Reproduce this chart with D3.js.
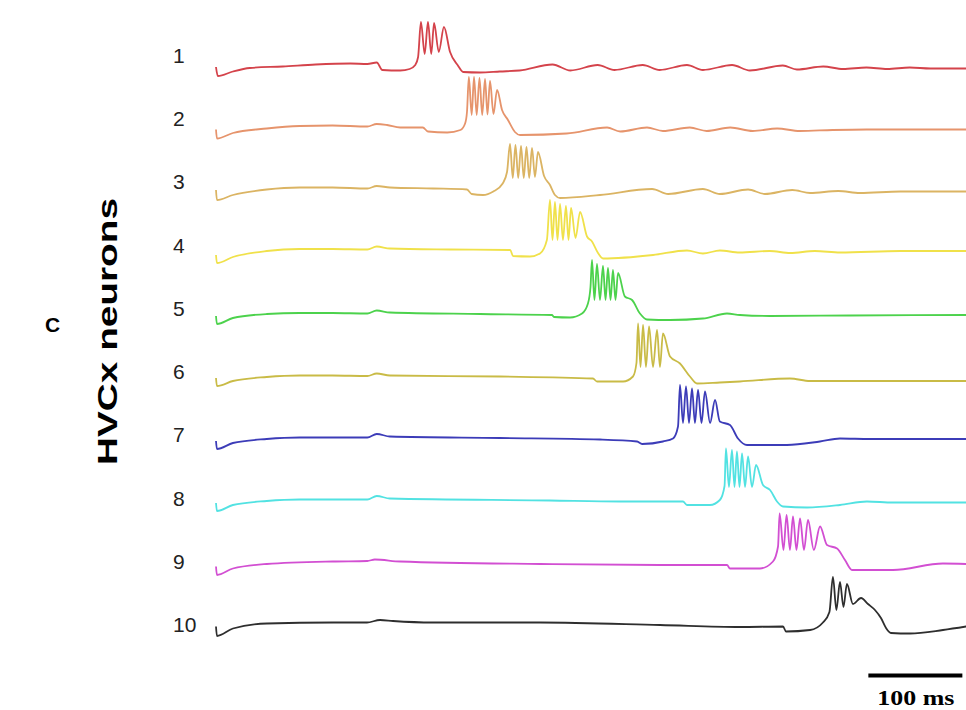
<!DOCTYPE html>
<html lang="en">
<head>
  <meta charset="utf-8">
  <title>HVCx neurons</title>
  <script src="https://d3js.org/d3.v7.min.js"></script>
  <style>
    body { margin: 0; background: #fff; }
  </style>
</head>
<body>
  <div id="my_dataviz"></div>
  <script>
    // traces: [time (ms), membrane potential (mV)]
    var neuron1 = [[0,-76],[2,-94],[18,-85],[36,-78],[71,-75],[106,-71],[143,-69],[161,-70],[171,-67],[177,-82],[196,-83],[206,-80],[212,-72],[215,-56],[218,14],[222,-50],[225.5,14],[229,-50],[232,12],[237,-46],[242.5,4],[249,-46],[257,-72],[263,-86],[281,-87],[302,-85],[323,-83],[358,-71],[377,-83],[406,-72],[424,-82],[454,-72],[472,-82],[501,-72],[518,-82],[549,-72],[568,-83],[603,-73],[618,-81],[646,-75],[667,-80],[692,-77],[714,-80],[738,-77],[760,-79],[798,-79]];
    var neuron2 = [[0,-77],[1,-95],[18,-84],[54,-75],[89,-70],[124,-69],[161,-71],[171,-66],[182,-68],[196,-73],[220,-73],[225.5,-81],[246,-83],[260,-78],[265,-65],[267,-42],[269,28],[272,-48],[274.5,28],[277.3,-48],[280.3,26],[283.2,-48],[286.2,24],[288.8,-47],[291.5,20],[295.2,-46],[299,2],[304.3,-38],[310.6,-58],[318,-82],[323.4,-88],[373,-85],[416,-73],[430,-81],[458.5,-73],[475.5,-80],[504,-73],[522,-80],[547,-73],[571,-80],[597,-75],[621,-80],[656,-78],[692,-77],[798,-77]];
    var neuron3 = [[0,-74],[1,-94],[18,-84],[54,-73],[89,-69],[124,-69],[161,-71],[171,-66],[185,-69],[231,-71],[267,-73],[272,-82],[284,-84],[295,-77],[305,-61],[309.6,-38],[312.8,18],[315.7,-50],[318.6,16],[321.5,-50],[324.5,14],[327.4,-50],[330.3,12],[333.2,-50],[336.2,10],[339.3,-48],[342.5,2],[349,-46],[355.3,-64],[360.6,-84],[366,-90],[408.5,-84],[464,-72],[481,-82],[518,-72],[536,-82],[566,-73],[584,-82],[613,-74],[632,-80],[662,-76],[685,-80],[728,-77],[798,-77]];
    var neuron4 = [[0,-80],[1,-96],[18,-84],[54,-72],[89,-68],[124,-68],[161,-69],[171,-63],[185,-67],[249,-69],[313,-70],[316,-82],[334,-83],[344.7,-77],[352,-50],[355.3,30],[358,-50],[360.6,26],[363.3,-50],[366,22],[369.1,-50],[372.3,18],[375,-50],[377.7,14],[382.5,-46],[387.3,6],[394.7,-43],[400,-53],[406.4,-76],[411.7,-87],[465,-80],[501,-71],[518,-77],[536,-71],[557,-75],[589,-72],[611,-76],[637,-72],[664,-75],[728,-72],[798,-72]];
    var neuron5 = [[0,-78],[1,-94],[18,-82],[54,-74],[89,-72],[124,-72],[161,-73],[171,-67],[185,-71],[281,-74],[357.4,-76],[359.6,-80],[376.6,-81],[389.4,-73],[395.7,-53],[398.4,-20],[400,34],[402.6,-46],[405.3,26],[408.5,-46],[411.7,22],[414.4,-46],[417,18],[419.7,-46],[422.3,14],[425,-46],[427.7,8],[435,-39],[442.6,-46],[451,-73],[458.5,-85],[483,-86],[518,-83],[543.6,-73],[557.4,-76],[589,-78],[674.5,-77],[798,-76]];
    var neuron6 = [[0,-78],[1,-94],[18,-84],[54,-76],[89,-73],[124,-73],[161,-74],[171,-69],[185,-73],[302,-75],[401,-79],[405.3,-85],[433,-85],[443.6,-75],[447.3,-48],[449,31],[451.6,-56],[454.3,28],[457.4,-56],[460.7,25],[464.9,-56],[469.2,18],[472.3,-56],[475.5,11],[483,-35],[493.6,-49],[504.2,-75],[511.7,-89],[536,-87],[557.4,-85],[610.6,-79],[632,-84],[728,-84],[798,-84]];
    var neuron7 = [[0,-80],[1,-96],[18,-84],[54,-76],[89,-73],[124,-73],[161,-73],[171,-66],[185,-71],[302,-74],[408.5,-77],[448,-81],[453.3,-86],[475.5,-81],[486.2,-75],[491.5,-51],[493.6,32],[496.8,-44],[500,29],[503.2,-44],[506.4,25],[509.5,-44],[512.8,22],[516.5,-44],[520.2,19],[525.6,-44],[530.9,2],[536,-41],[546.8,-48],[555.3,-75],[564.9,-88],[607.4,-88],[642.5,-81],[663.8,-75],[695.7,-76],[798,-76]];
    var neuron8 = [[0,-80],[1,-96],[18,-84],[54,-76],[89,-73],[124,-73],[161,-73],[171,-66],[185,-71],[355,-75],[430,-77],[496.8,-77],[501,-84],[525.5,-84],[536,-74],[541,-46],[542.5,29],[545.7,-48],[548.9,26],[551.6,-48],[554.2,23],[556.9,-48],[559.6,19],[562.8,-48],[566,13],[570.2,-48],[574.5,-4],[581.9,-44],[589.4,-54],[596.8,-77],[603.2,-87],[628.8,-89],[663.8,-84],[692.5,-77],[720.2,-79],[798,-79]];
    var neuron9 = [[0,-83],[1,-100],[18,-87],[54,-78],[124,-73],[161,-72],[169,-69],[196,-73],[345,-78],[472,-80],[543.6,-80],[546.8,-87],[578.7,-87],[592.5,-73],[597.9,-43],[599.6,23],[603.7,-50],[607,20],[610.6,-50],[613.8,17],[617.5,-50],[621.3,13],[625.5,-50],[629.8,10],[636,-50],[642.6,-3],[650,-40],[660.7,-47],[669.1,-70],[676.6,-90],[720.2,-90],[773.4,-77],[798,-78]];
    var neuron10 = [[0,-79],[1,-98],[18,-83],[54,-73],[124.5,-71],[160.6,-71],[174.5,-66],[188.3,-68],[230.8,-71],[344.7,-71],[472.3,-76],[557.4,-80],[603.2,-79],[606.4,-89],[632,-86],[645.7,-71],[652.6,-50],[656.3,20],[660,-46],[663.8,10],[667.5,-40],[671.2,6],[677.6,-34],[686.2,-22],[693.6,-34],[701,-46],[707.4,-62],[712.8,-82],[718,-92],[738.3,-93],[773.4,-86],[798,-79]];

    var neuronLabels = ["1", "2", "3", "4", "5", "6", "7", "8", "9", "10"];
    var traces = [neuron1, neuron2, neuron3, neuron4, neuron5, neuron6, neuron7, neuron8, neuron9, neuron10];
    var colors = ["#d4434b", "#e6946c", "#dbb463", "#f0e14a", "#4cd24c", "#c9bb46", "#3c3cb8", "#52e2e2", "#d24fd2", "#2e2e2e"];
    var scaleBarMs = 100;

    var width = 966, height = 710;

    var svg = d3.select("#my_dataviz")
      .append("svg")
      .attr("width", width)
      .attr("height", height)
      .style("display", "block");

    // time axis (no drawn axis, only the scale bar)
    var x = d3.scaleLinear().domain([0, 800]).range([216, 968]);
    // one row per neuron, resting level at -70 mV
    var row = d3.scalePoint().domain(neuronLabels).range([64, 622]);
    var v = d3.scaleLinear().domain([-70, 20]).range([0, -45]);
    var labelRow = d3.scalePoint().domain(neuronLabels).range([55.5, 624.5]);

    traces.forEach(function (data, i) {
      var y0 = row(neuronLabels[i]);
      var line = d3.line()
        .x(function (d) { return x(d[0]); })
        .y(function (d) { return y0 + v(d[1]); })
        .curve(d3.curveMonotoneX);

      svg.append("path")
        .datum(data)
        .attr("d", line)
        .attr("fill", "none")
        .attr("stroke", colors[i])
        .attr("stroke-width", 1.8)
        .attr("stroke-linejoin", "round");
    });

    // neuron numbers
    svg.selectAll(".lbl")
      .data(neuronLabels)
      .enter()
      .append("text")
      .attr("class", "lbl")
      .attr("x", 173)
      .attr("y", function (d) { return labelRow(d) + 7.5; })
      .style("font-family", "'Liberation Sans', Arial, sans-serif")
      .style("font-size", "21px")
      .style("fill", "#222")
      .text(function (d) { return d; });

    // panel letter
    svg.append("text")
      .attr("x", 45)
      .attr("y", 332)
      .style("font-family", "'Liberation Sans', Arial, sans-serif")
      .style("font-weight", "bold")
      .style("font-size", "21px")
      .text("C");

    // y title
    svg.append("text")
      .attr("transform", "translate(117,331.5) rotate(-90)")
      .attr("text-anchor", "middle")
      .attr("textLength", 267)
      .attr("lengthAdjust", "spacingAndGlyphs")
      .style("font-family", "'Liberation Sans', Arial, sans-serif")
      .style("font-weight", "bold")
      .style("font-size", "27px")
      .text("HVCx neurons");

    // scale bar
    svg.append("line")
      .attr("x1", x(694))
      .attr("x2", x(694 + scaleBarMs))
      .attr("y1", 675.5)
      .attr("y2", 675.5)
      .attr("stroke", "#000")
      .attr("stroke-width", 4);

    svg.append("text")
      .attr("x", (x(694) + x(694 + scaleBarMs)) / 2 + 0.5)
      .attr("y", 705)
      .attr("text-anchor", "middle")
      .attr("textLength", 77)
      .attr("lengthAdjust", "spacingAndGlyphs")
      .style("font-family", "'Liberation Serif', 'Times New Roman', serif")
      .style("font-weight", "bold")
      .style("font-size", "22px")
      .text(scaleBarMs + " ms");
  </script>
</body>
</html>
